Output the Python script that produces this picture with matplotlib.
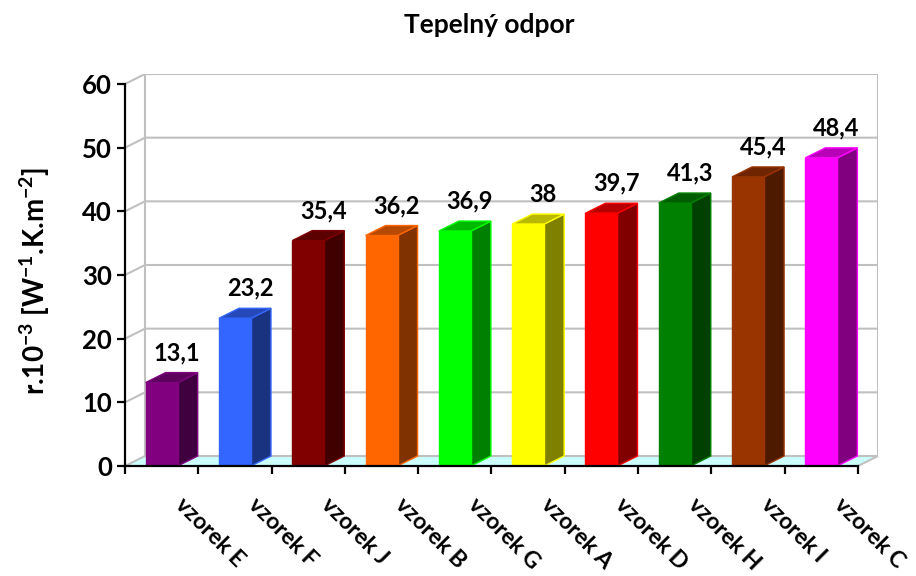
import matplotlib
matplotlib.use("Agg")
import matplotlib.pyplot as plt
from matplotlib.patches import Polygon
from matplotlib.colors import to_rgb
import numpy as np

plt.rcParams['font.family'] = ['Lato', 'DejaVu Sans']
plt.rcParams['font.weight'] = 'bold'
plt.rcParams['mathtext.fontset'] = 'custom'
plt.rcParams['mathtext.rm'] = 'Lato:bold'
plt.rcParams['mathtext.it'] = 'Lato:bold'
plt.rcParams['mathtext.bf'] = 'Lato:bold'

vzorky = ['vzorek E', 'vzorek F', 'vzorek J', 'vzorek B', 'vzorek G',
          'vzorek A', 'vzorek D', 'vzorek H', 'vzorek I', 'vzorek C']
odpor = [13.1, 23.2, 35.4, 36.2, 36.9, 38, 39.7, 41.3, 45.4, 48.4]
barvy = ['#800080', '#3366FF', '#800000', '#FF6600', '#00FF00',
         '#FFFF00', '#FF0000', '#008000', '#993300', '#FF00FF']
yticks = [0, 10, 20, 30, 40, 50, 60]

# pseudo 3D: posun zadni steny (v jednotkach os)
DX = 0.273
DY = 1.57
SIRKA = 0.437
YMAX = 60
SEDA = '#C0C0C0'


def ztmav(c, k):
    return tuple(np.array(to_rgb(c)) * k)


fig = plt.figure(figsize=(9.16, 5.76), dpi=100)
ax = fig.add_axes([125/916, 110/576, 753/916, 392/576])
n = len(vzorky)
ax.set_xlim(0, n + DX)
ax.set_ylim(0, YMAX + DY)

# podlaha
ax.add_patch(Polygon([(0, 0), (n, 0), (n + DX, DY), (DX, DY)],
                     closed=True, facecolor='#CCFFFF', edgecolor='none', zorder=1))
# mrizka na zadni a bocni stene
for v in yticks:
    ax.plot([0, DX, n + DX], [v, v + DY, v + DY], color=SEDA, lw=1.5, zorder=2)
ax.plot([DX, DX], [DY, YMAX + DY], color=SEDA, lw=1.5, zorder=2)
ax.plot([n + DX, n + DX], [DY, YMAX + DY], color=SEDA, lw=1.5, zorder=2)
ax.plot([n, n + DX], [0, DY], color=SEDA, lw=1.5, zorder=2)

# sloupce
for i, (v, c) in enumerate(zip(odpor, barvy)):
    x0 = i + 0.5 - SIRKA / 2
    x1 = i + 0.5 + SIRKA / 2
    bok = [(x1, 0), (x1 + DX, DY), (x1 + DX, v + DY), (x1, v)]
    vrch = [(x0, v), (x1, v), (x1 + DX, v + DY), (x0 + DX, v + DY)]
    celo = [(x0, 0), (x1, 0), (x1, v), (x0, v)]
    ax.add_patch(Polygon(bok, closed=True, facecolor=ztmav(c, 0.5),
                         edgecolor=c, lw=1, zorder=3))
    ax.add_patch(Polygon(vrch, closed=True, facecolor=ztmav(c, 0.72),
                         edgecolor=c, lw=1, zorder=3))
    ax.add_patch(Polygon(celo, closed=True, facecolor=c,
                         edgecolor=c, lw=1, zorder=4))
    ax.annotate(f'{v:g}'.replace('.', ','), (i + 0.5 + DX * 0.75, v + DY),
                xytext=(0, 9), textcoords='offset points',
                ha='center', va='baseline', fontsize=17, fontweight='bold',
                zorder=5)
    ax.annotate(vzorky[i], (i + 0.5, 0), xytext=(12, -25.5),
                textcoords='offset points', rotation=-45,
                rotation_mode='anchor', ha='left', va='center',
                fontsize=16.5, fontweight='bold', annotation_clip=False)

# osy
for s in ['top', 'right']:
    ax.spines[s].set_visible(False)
ax.spines['left'].set_bounds(0, YMAX)
ax.spines['bottom'].set_bounds(0, n)
for s in ['left', 'bottom']:
    ax.spines[s].set_linewidth(1.6)
    ax.spines[s].set_zorder(6)
ax.set_yticks(yticks)
ax.set_xticks(np.arange(n + 1))
ax.set_xticklabels([])
ax.tick_params(axis='both', direction='out', length=6, width=1.6, color='black')
ax.tick_params(axis='y', pad=3.5, labelsize=18.5)
for t in ax.get_yticklabels():
    t.set_fontweight('bold')
ax.patch.set_visible(False)

fig.text(489/916, 1 - 33/576, 'Tepelný odpor', ha='center', va='baseline',
         fontsize=19, fontweight='bold')
fig.text(35/916, 1 - 281/576, r'r.10$^{-3}$ [W$^{-1}$.K.m$^{-2}$]',
         rotation=90, ha='center', va='center', fontsize=20, fontweight='bold')

fig.savefig('out.png', dpi=100)
